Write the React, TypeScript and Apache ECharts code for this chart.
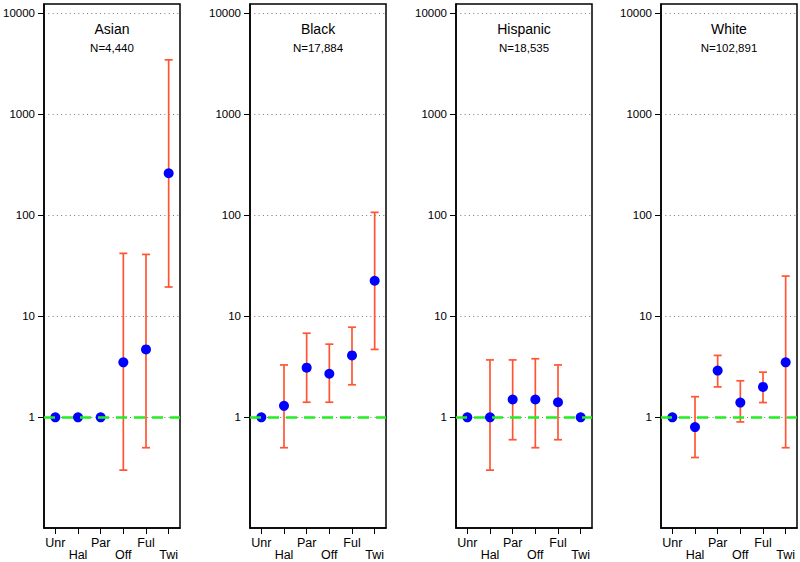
import React, { useEffect, useRef } from "react";
import * as echarts from "echarts";

const categories = ["Unr", "Hal", "Par", "Off", "Ful", "Twi"];
const groups = ["Asian", "Black", "Hispanic", "White"];
const counts = ["N=4,440", "N=17,884", "N=18,535", "N=102,891"];
const yTicks = [1, 10, 100, 1000, 10000];

const asianEst = [1, 1, 1, 3.5, 4.7, 261];
const asianLow = [null, null, null, 0.3, 0.5, 19.5];
const asianHigh = [null, null, null, 42, 41, 3460];

const blackEst = [1, 1.3, 3.1, 2.7, 4.1, 22.5];
const blackLow = [null, 0.5, 1.41, 1.41, 2.1, 4.7];
const blackHigh = [null, 3.3, 6.8, 5.3, 7.8, 107];

const hispEst = [1, 1, 1.5, 1.5, 1.41, 1];
const hispLow = [null, 0.3, 0.6, 0.5, 0.6, null];
const hispHigh = [null, 3.7, 3.7, 3.8, 3.3, null];

const whiteEst = [1, 0.8, 2.9, 1.4, 2.0, 3.5];
const whiteLow = [null, 0.4, 2.0, 0.9, 1.4, 0.5];
const whiteHigh = [null, 1.6, 4.1, 2.3, 2.8, 25];

const panels = [
  { est: asianEst, low: asianLow, high: asianHigh },
  { est: blackEst, low: blackLow, high: blackHigh },
  { est: hispEst, low: hispLow, high: hispHigh },
  { est: whiteEst, low: whiteLow, high: whiteHigh },
];

const FONT = "Liberation Sans, Arial, Helvetica, sans-serif";
const PANEL_LEFT = [44, 250, 456, 661];
const PANEL_W = 136;
const PANEL_TOP = 4;
const PANEL_H = 524;

export default function App() {
  const ref = useRef<HTMLDivElement>(null);

  useEffect(() => {
    if (!ref.current) return;
    const chart = echarts.init(ref.current, null, { renderer: "svg" });

    const grid: any[] = [];
    const xAxis: any[] = [];
    const yAxis: any[] = [];
    const series: any[] = [];
    const graphic: any[] = [];

    panels.forEach((p, i) => {
      grid.push({
        left: PANEL_LEFT[i],
        top: PANEL_TOP,
        width: PANEL_W,
        height: PANEL_H,
        show: true,
        borderColor: "#000",
        borderWidth: 1.5,
        backgroundColor: "transparent",
      });
      xAxis.push({
        type: "category",
        gridIndex: i,
        data: categories,
        boundaryGap: true,
        axisLine: { show: true, lineStyle: { color: "#000", width: 1.5 } },
        axisTick: { show: true, alignWithLabel: true, length: 6, lineStyle: { color: "#000", width: 1 } },
        axisLabel: {
          interval: 0,
          margin: 9,
          fontSize: 12.5,
          lineHeight: 12,
          color: "#000",
          fontFamily: FONT,
          formatter: (v: string, idx: number) => (idx % 2 === 1 ? "\n" + v : v),
        },
        splitLine: { show: false },
      });
      yAxis.push({
        type: "log",
        gridIndex: i,
        logBase: 10,
        min: 0.0802,
        max: 12360,
        axisLine: { show: true, lineStyle: { color: "#000", width: 1.5 } },
        axisTick: { show: true, length: 6, customValues: yTicks, lineStyle: { color: "#000", width: 1 } },
        axisLabel: {
          customValues: yTicks,
          margin: 9,
          fontSize: 11.5,
          color: "#000",
          fontFamily: FONT,
          formatter: (v: number) => String(v),
        },
        splitLine: { show: true, lineStyle: { color: "#777", width: 1, type: [1, 3.3] } },
      });

      const bars: any[] = [];
      p.est.forEach((_, k) => {
        if (p.low[k] != null && p.high[k] != null) bars.push([k, p.low[k], p.high[k]]);
      });

      series.push({
        type: "custom",
        xAxisIndex: i,
        yAxisIndex: i,
        z: 2,
        silent: true,
        encode: { x: 0, y: [1, 2] },
        data: bars,
        renderItem: (params: any, api: any) => {
          const x = api.value(0);
          const pLo = api.coord([x, api.value(1)]);
          const pHi = api.coord([x, api.value(2)]);
          const hw = 4;
          const style = { stroke: "#ff5533", lineWidth: 1.7 };
          return {
            type: "group",
            children: [
              { type: "line", shape: { x1: pLo[0], y1: pLo[1], x2: pHi[0], y2: pHi[1] }, style },
              { type: "line", shape: { x1: pLo[0] - hw, y1: pLo[1], x2: pLo[0] + hw, y2: pLo[1] }, style },
              { type: "line", shape: { x1: pHi[0] - hw, y1: pHi[1], x2: pHi[0] + hw, y2: pHi[1] }, style },
            ],
          };
        },
        markLine: {
          silent: true,
          symbol: "none",
          label: { show: false },
          lineStyle: { color: "#22ee22", width: 2.5, type: [11, 7], opacity: 1 },
          data: [{ yAxis: 1 }],
        },
      });

      series.push({
        type: "scatter",
        xAxisIndex: i,
        yAxisIndex: i,
        z: 3,
        silent: true,
        symbol: "circle",
        symbolSize: 10,
        itemStyle: { color: "#0000ff", opacity: 1 },
        data: p.est,
      });

      const cx = PANEL_LEFT[i] + PANEL_W / 2;
      graphic.push({
        type: "text",
        x: cx,
        y: 29,
        style: {
          text: groups[i],
          fill: "#000",
          font: `14px ${FONT}`,
          textAlign: "center",
          textVerticalAlign: "middle",
        },
      });
      graphic.push({
        type: "text",
        x: cx,
        y: 48,
        style: {
          text: counts[i],
          fill: "#000",
          font: `11.5px ${FONT}`,
          textAlign: "center",
          textVerticalAlign: "middle",
        },
      });
    });

    chart.setOption({
      animation: false,
      backgroundColor: "#fff",
      grid,
      xAxis,
      yAxis,
      series,
      graphic,
    });

    return () => chart.dispose();
  }, []);

  return (
    <div
      ref={ref}
      style={{ position: "fixed", left: 0, top: 0, width: 800, height: 562 }}
    />
  );
}
